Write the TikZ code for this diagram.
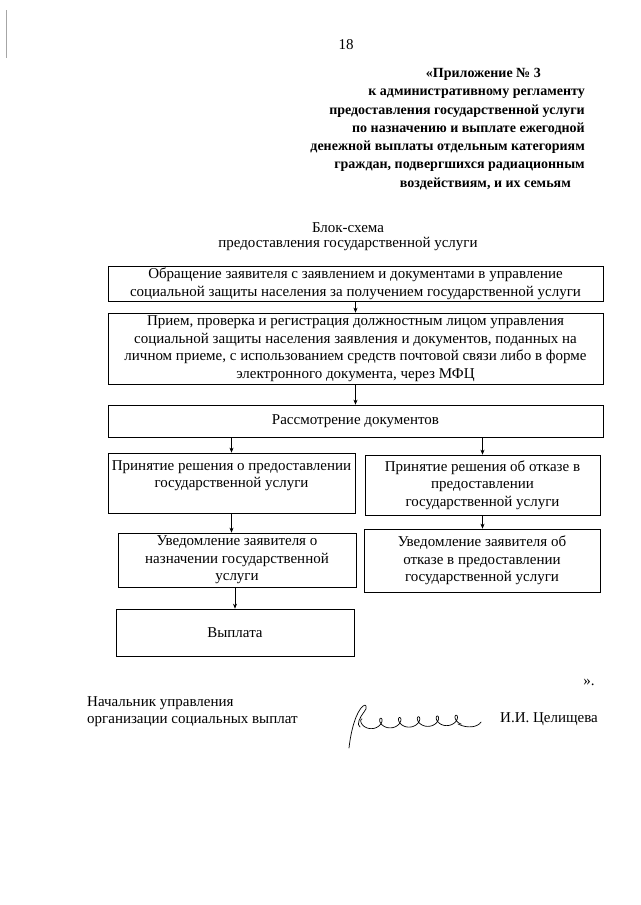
\documentclass[tikz,border=0pt]{standalone}
\usepackage{fontspec}
\setmainfont{Liberation Serif}
\usetikzlibrary{arrows.meta}
\begin{document}
\begin{tikzpicture}[x=1pt,y=-1pt,
  box/.style={draw, line width=0.7pt, align=center, inner sep=0pt, font=\fontsize{15}{17.5}\selectfont},
  arr/.style={-{Stealth[length=5pt,width=4pt]}, line width=0.6pt},
  txt/.style={inner sep=0pt, font=\fontsize{15}{17}\selectfont}]
\fill[white] (0,0) rectangle (640,905);
\useasboundingbox (0,0) rectangle (640,905);

% scan edge line
\draw[gray!70, line width=0.8pt] (6,10) -- (6,58);

% page number and header
\node[txt] (pg) at (346,45) {18};
\node[txt, anchor=north east, align=right, font=\fontsize{14}{18.3}\bfseries] (hdr) at (585,68)
  {«Приложение № 3\hspace*{44pt}\\к административному регламенту\\предоставления государственной услуги\\по назначению и выплате ежегодной\\денежной выплаты отдельным категориям\\граждан, подвергшихся радиационным\\воздействиям, и их семьям\hspace*{14pt}};

% title
\node[txt, anchor=north, align=center, font=\fontsize{15}{15.5}\selectfont] (ttl) at (348,222)
  {Блок-схема\\предоставления государственной услуги};

% boxes
\node[box, minimum width=495pt, minimum height=35pt] (b1) at (355.5,283.5)
  {Обращение заявителя с заявлением и документами в управление\\социальной защиты населения за получением государственной услуги};
\node[box, minimum width=495pt, minimum height=71pt] (b2) at (355.5,348.5)
  {Прием, проверка и регистрация должностным лицом управления\\социальной защиты населения заявления и документов, поданных на\\личном приеме, с использованием средств почтовой связи либо в форме\\электронного документа, через МФЦ};
\node[box, minimum width=495pt, minimum height=32pt] (b3) at (355.5,421)
  {Рассмотрение документов};
\node[box, minimum width=247pt, minimum height=60pt] (b4) at (231.5,483)
  {Принятие решения о предоставлении\\государственной услуги\\\mbox{}};
\node[box, minimum width=235pt, minimum height=60pt] (b5) at (482.5,485)
  {Принятие решения об отказе в\\предоставлении\\государственной услуги};
\node[box, minimum width=238pt, minimum height=54pt] (b6) at (237,560)
  {Уведомление заявителя о\\назначении государственной\\услуги};
\node[box, minimum width=236pt, minimum height=63pt] (b7) at (482,560.5)
  {Уведомление заявителя об\\отказе в предоставлении\\государственной услуги};
\node[box, minimum width=238pt, minimum height=47pt] (b8) at (235,632.5)
  {Выплата};

% connectors
\draw[arr] (b1.south) -- (b2.north);
\draw[arr] (b2.south) -- (b3.north);
\draw[arr] (b3.south -| b4.north) -- (b4.north);
\draw[arr] (b3.south -| b5.north) -- (b5.north);
\draw[arr] (b4.south) -- (b4.south |- b6.north);
\draw[arr] (b5.south) -- (b5.south |- b7.north);
\draw[arr] (b6.south -| b8.north) -- (b8.north);

% closing quote
\node[txt] (q) at (589,682) {».};

% signature block
\node[txt, anchor=north west, align=left] (pos) at (87,696)
  {Начальник управления\\организации социальных выплат};
\node[txt, anchor=base west] (nm) at (500,722) {И.И. Целищева};

% handwritten signature
\draw[line width=0.7pt, line cap=round, line join=round]
  (349,748) .. controls (351,730) and (356,712) .. (363,706)
  .. controls (366,703) and (368,708) .. (364,712)
  .. controls (360,717) and (356,725) .. (360,727);
\draw[line width=0.7pt, line cap=round, line join=round, domain=0:34, samples=260, smooth]
  plot ({362 + 3*\x - 5*sin(\x r)}, {724 - 5*cos(\x r) - 0.12*\x});
\draw[line width=0.7pt, line cap=round]
  (458,724) .. controls (468,729) and (478,727) .. (481,722);
\end{tikzpicture}
\end{document}
